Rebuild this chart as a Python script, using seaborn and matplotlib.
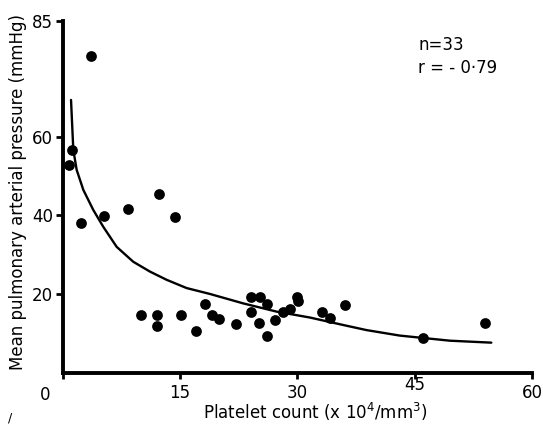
import matplotlib
matplotlib.use("Agg")
import matplotlib.pyplot as plt
import matplotlib.transforms as mtransforms
import seaborn as sns
import pandas as pd

# Data
platelet = [3.6, 1.17, 0.83, 12.36, 5.3, 8.33, 14.33, 2.32,
            10.06, 12.1, 12.1, 15.1, 18.2, 19.05, 19.99, 17.09, 22.12,
            24.04, 25.22, 26.08, 24.07, 25.06, 26.12, 27.18, 28.2, 29.05,
            29.99, 30.11, 33.14, 34.16, 36.08, 46.08, 54.05]
pressure = [80.6, 56.7, 52.9, 45.5, 39.9, 41.6, 39.6, 38.0,
            14.7, 14.6, 11.8, 14.6, 17.5, 14.6, 13.6, 10.6, 12.4,
            19.3, 19.3, 17.5, 15.5, 12.5, 9.4, 13.3, 15.3, 16.2,
            19.2, 18.2, 15.3, 14.0, 17.2, 8.9, 12.5]

# Regression curve
curve_x = [1.09, 1.38, 1.81, 2.66, 3.93, 5.21, 6.92, 9.04, 11.17, 13.31,
           15.86, 18.84, 23.09, 27.36, 31.61, 35.86, 38.85, 43.1, 49.5, 54.8]
curve_y = [69.4, 56.7, 51.6, 46.5, 41.4, 37.1, 32.0, 28.2, 25.7, 23.6,
           21.5, 20.0, 17.6, 15.5, 14.0, 12.1, 10.8, 9.4, 8.1, 7.6]

xtick_values = [0, 15, 30, 45, 60]
xtick_labels = ["0", "15", "30", "45", "60"]
ytick_values = [20, 40, 60, 89.5]
ytick_labels = ["20", "40", "60", "85"]

annot_lines = ["n=33", "r = - 0·79"]
xlabel = "Platelet count (x 10$^4$/mm$^3$)"
ylabel = "Mean pulmonary arterial pressure (mmHg)"

sns.set_style("ticks")
plt.rcParams["font.family"] = ["DejaVu Sans"]
plt.rcParams["mathtext.fontset"] = "dejavusans"

df = pd.DataFrame({"platelet": platelet, "pressure": pressure})
cdf = pd.DataFrame({"x": curve_x, "y": curve_y})

fig = plt.figure(figsize=(5.43, 4.26), dpi=100)
ax = fig.add_axes([62.5 / 543, 53.5 / 426, 469.5 / 543, 351.5 / 426])

sns.lineplot(data=cdf, x="x", y="y", ax=ax, color="black", linewidth=1.7,
             sort=False, estimator=None)
sns.scatterplot(data=df, x="platelet", y="pressure", ax=ax, color="black",
                s=60, edgecolor="black", linewidth=0, zorder=3)

ax.set_xlim(0, 60)
ax.set_ylim(0, 89.5)
ax.set_xticks(xtick_values)
ax.set_xticklabels(xtick_labels)
ax.set_yticks(ytick_values)
ax.set_yticklabels(ytick_labels)
ax.set_xlabel("")
ax.set_ylabel("")

for side in ["top", "right"]:
    ax.spines[side].set_visible(False)
for side in ["left", "bottom"]:
    ax.spines[side].set_linewidth(2.8)
    ax.spines[side].set_color("black")

ax.tick_params(axis="y", direction="out", length=5, width=2, labelsize=12,
               pad=2, colors="black")
ax.tick_params(axis="x", direction="out", length=4, width=2, labelsize=12,
               pad=4, colors="black")

# individual label offsets as in the reference
xlbls = ax.get_xticklabels()
shifts = {0: (-17, -2), 3: (0, 8)}
for i, (dx, dy) in shifts.items():
    off = mtransforms.ScaledTranslation(dx / 100, dy / 100, fig.dpi_scale_trans)
    xlbls[i].set_transform(xlbls[i].get_transform() + off)

fig.text(315 / 543, 1 - 412 / 426, xlabel, ha="center", va="center",
         fontsize=12, color="black")
fig.text(18 / 543, 1 - 192 / 426, ylabel, ha="center", va="center",
         rotation=90, fontsize=12, color="black")

fig.text(418 / 543, 1 - 45 / 426, annot_lines[0], ha="left", va="center",
         fontsize=12, color="black")
fig.text(418 / 543, 1 - 68 / 426, annot_lines[1], ha="left", va="center",
         fontsize=12, color="black")

fig.text(10 / 543, 1 - 418 / 426, "/", ha="center", va="center",
         fontsize=9, color="black")

fig.savefig("out.png", dpi=100, facecolor="white")
